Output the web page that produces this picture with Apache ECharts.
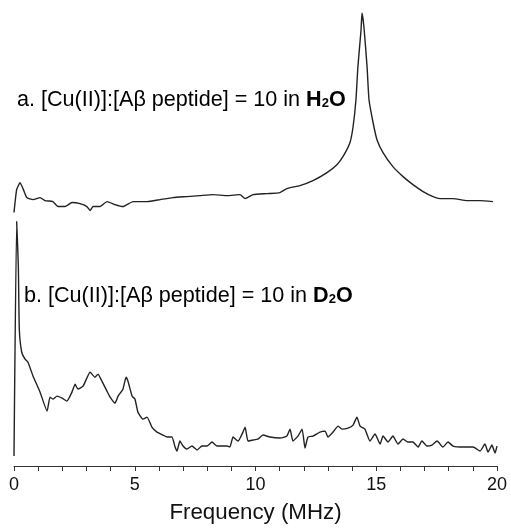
<!DOCTYPE html>
<html>
<head>
<meta charset="utf-8">
<script src="https://cdn.jsdelivr.net/npm/echarts@6/dist/echarts.min.js"></script>
<style>
html,body{margin:0;padding:0;background:#fff;}
#chart{width:511px;height:529px;}
</style>
</head>
<body>
<div id="chart"></div>
<script>
// Frequency ticks
const xTicks = [0, 5, 10, 15, 20];

// Trace a: [Cu(II)]:[Aβ peptide] = 10 in H2O  (frequency MHz, intensity a.u.)
const freqA = [0.00,0.11,0.25,0.39,0.53,0.79,1.08,1.28,1.61,1.82,2.11,2.40,2.73,3.02,3.15,3.27,3.56,3.85,4.18,4.51,4.93,5.51,6.05,6.58,7.16,7.70,8.24,8.82,9.36,9.57,9.90,10.48,11.01,11.30,11.84,12.38,12.96,13.37,13.62,13.91,14.04,14.16,14.24,14.37,14.41,14.49,14.62,14.70,14.87,15.03,15.28,15.69,16.11,16.52,16.94,17.35,17.64,18.18,18.76,19.30,19.83];
const intA = [254,277,284,277,269,267,269,266,265,260,260,264,263,260,256,260,260,265,262,260,265,265,267,269,270,271,272,271,272,268,272,273,274,278,281,286,294,302,310,324,340,367,400,437,454,440,400,367,344,327,314,300,290,282,275,270,268,268,266,266,265];

// Trace b: [Cu(II)]:[Aβ peptide] = 10 in D2O
const freqB = [0.00,0.11,0.18,0.22,0.32,0.46,0.58,0.79,1.08,1.37,1.49,1.61,1.78,1.99,2.19,2.40,2.53,2.65,2.86,3.15,3.35,3.48,3.64,3.85,3.98,4.18,4.31,4.51,4.64,4.72,4.89,5.01,5.13,5.34,5.51,5.71,5.92,6.17,6.34,6.54,6.67,6.75,6.87,7.00,7.16,7.37,7.58,7.78,7.99,8.20,8.41,8.82,8.94,9.07,9.28,9.48,9.57,9.69,9.90,10.10,10.31,10.60,11.01,11.30,11.43,11.55,11.76,11.93,12.05,12.17,12.38,12.67,12.88,13.00,13.21,13.42,13.58,13.83,14.04,14.20,14.33,14.53,14.74,14.95,15.16,15.28,15.49,15.69,15.90,16.11,16.31,16.52,16.73,16.89,17.10,17.31,17.52,17.76,17.97,18.18,18.59,19.01,19.30,19.50,19.63,19.79,19.92,20.00];
const intB = [10,245,200,137,114,107,104,90,74,55,69,67,70,68,65,74,82,77,80,94,89,92,85,75,69,63,70,77,89,85,70,67,54,47,49,39,34,31,29,29,19,15,25,20,17,20,16,20,20,24,20,20,19,29,25,34,39,25,26,27,31,29,28,30,37,25,30,37,18,29,30,34,35,29,34,40,37,38,41,49,40,37,25,32,22,30,24,30,22,27,24,24,19,25,20,21,25,19,24,20,19,19,15,22,14,21,13,20];

const labelA = 'a. [Cu(II)]:[Aβ peptide] = 10 in ';
const labelB = 'b. [Cu(II)]:[Aβ peptide] = 10 in ';
const xName = 'Frequency (MHz)';

const zip = (xs, ys) => xs.map((x, i) => [x, ys[i]]);

const chart = echarts.init(document.getElementById('chart'), null, {renderer: 'canvas'});
const FONT = '"Liberation Sans", Arial, sans-serif';
const rich = {
  n: {fontSize: 21.6, fontFamily: FONT, color: '#111'},
  b: {fontSize: 21.6, fontFamily: FONT, fontWeight: 'bold', color: '#111'},
  s: {fontSize: 13, fontFamily: FONT, fontWeight: 'bold', color: '#111', padding: [6, 0, 0, 0]}
};
chart.setOption({
  animation: false,
  backgroundColor: '#fff',
  grid: {left: 14, right: 14, top: 7, bottom: 62, containLabel: false},
  xAxis: {
    type: 'value', min: 0, max: 20, interval: 5,
    name: xName, nameLocation: 'middle', nameGap: 36,
    nameTextStyle: {fontSize: 22.3, fontFamily: FONT, color: '#111'},
    axisLine: {show: true, onZero: false, lineStyle: {color: '#333', width: 1}},
    axisTick: {show: true, length: 5, lineStyle: {color: '#333'}},
    minorTick: {show: true, splitNumber: 5, length: 5, lineStyle: {color: '#333'}},
    axisLabel: {fontSize: 18, fontFamily: FONT, color: '#111', margin: 10,
      formatter: v => xTicks.includes(v) ? String(v) : ''},
    splitLine: {show: false}
  },
  yAxis: {type: 'value', min: 0, max: 460, show: false, splitLine: {show: false}},
  series: [
    {type: 'line', data: zip(freqA, intA), showSymbol: false, symbol: 'none',
     lineStyle: {color: '#222', width: 1.4}, smooth: 0.15},
    {type: 'line', data: zip(freqB, intB), showSymbol: false, symbol: 'none',
     lineStyle: {color: '#222', width: 1.4}, smooth: 0.15}
  ],
  graphic: [
    {type: 'text', left: 17, top: 89,
     style: {text: '{n|' + labelA + '}{b|H}{s|2}{b|O}', rich: rich}},
    {type: 'text', left: 24, top: 285,
     style: {text: '{n|' + labelB + '}{b|D}{s|2}{b|O}', rich: rich}}
  ]
});
</script>
</body>
</html>
